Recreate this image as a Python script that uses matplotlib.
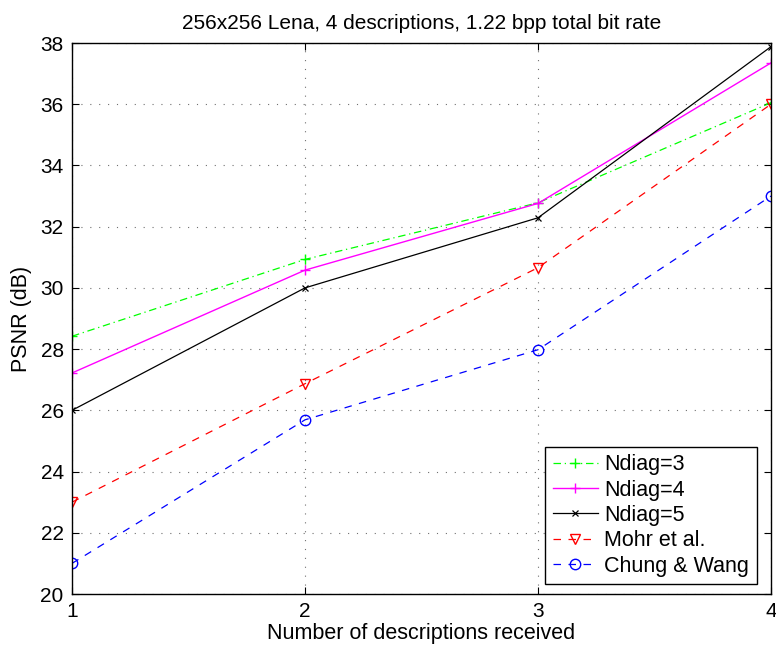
import matplotlib
matplotlib.use("Agg")
import matplotlib.pyplot as plt

plt.rcParams['font.family'] = ['Liberation Sans', 'DejaVu Sans']

x = [1, 2, 3, 4]
ndiag3 = [28.42, 30.93, 32.78, 36.05]
ndiag4 = [27.22, 30.58, 32.76, 37.35]
ndiag5 = [26.0, 30.0, 32.29, 37.88]
mohr = [23.0, 26.87, 30.66, 36.0]
chung = [21.0, 25.69, 27.98, 33.0]

labels = ['Ndiag=3', 'Ndiag=4', 'Ndiag=5', 'Mohr et al.', 'Chung & Wang']
xticks = [1, 2, 3, 4]
yticks = list(range(20, 39, 2))

fig = plt.figure(figsize=(7.76, 6.49), dpi=100)
ax = fig.add_axes([72 / 776, 55 / 649, 699 / 776, 551 / 649])

ax.plot(x, ndiag3, color='#00ff00', linestyle=(0, (6, 3, 1, 3)), marker='+', markersize=7.5, mew=1.0, lw=0.9, label=labels[0])
ax.plot(x, ndiag4, color='#ff00ff', linestyle='-', marker='+', markersize=7.5, mew=1.0, lw=1.0, label=labels[1])
ax.plot(x, ndiag5, color='black', linestyle='-', marker='x', markersize=5, mew=0.9, lw=0.9, label=labels[2])
ax.plot(x, mohr, color='red', linestyle=(0, (6, 6)), marker='v', markersize=7.5, mfc='none', mew=1.0, lw=0.9, label=labels[3])
ax.plot(x, chung, color='blue', linestyle=(0, (6, 6)), marker='o', markersize=7.5, mfc='none', mew=1.0, lw=0.9, label=labels[4])

ax.set_xlim(1, 4)
ax.set_ylim(20, 38)
ax.set_xticks(xticks)
ax.set_yticks(yticks)
ax.tick_params(direction='in', top=True, right=True, labelsize=15, length=5, width=0.8, pad=6)
ax.minorticks_off()
ax.grid(True, linestyle=(0, (1, 7)), color='#707070', lw=0.8)
for s in ax.spines.values():
    s.set_linewidth(1.0)

ax.set_xlabel('Number of descriptions received', fontsize=15.5, labelpad=1)
ax.set_ylabel('PSNR (dB)', fontsize=15.5, labelpad=6)
ax.set_title('256x256 Lena, 4 descriptions, 1.22 bpp total bit rate', fontsize=15, pad=10)

leg = ax.legend(loc='lower right', bbox_to_anchor=(0.9796, 0.018), fontsize=15.5, fancybox=False,
                edgecolor='black', framealpha=1, handlelength=2.1, borderaxespad=0.0,
                labelspacing=0.2, handletextpad=0.3, borderpad=0.35)
leg.get_frame().set_linewidth(1.0)

fig.savefig('out.png', dpi=100)
